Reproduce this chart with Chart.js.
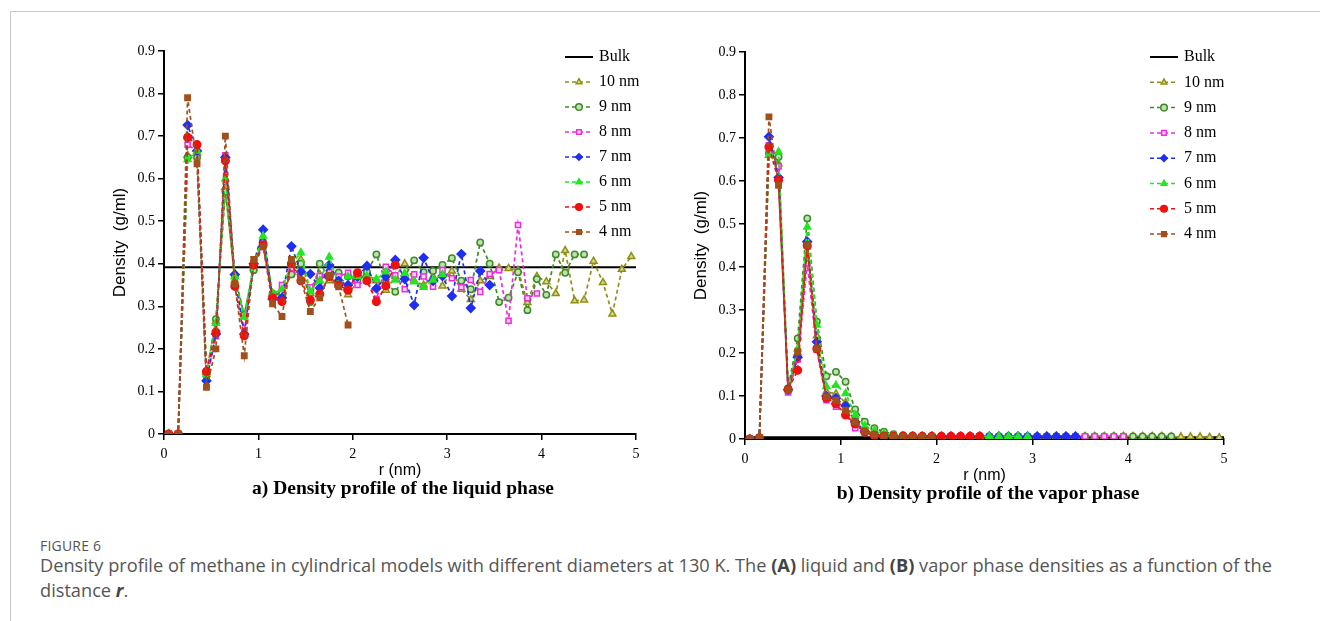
<!DOCTYPE html>
<html>
<head>
<meta charset="utf-8">
<script src="https://cdn.jsdelivr.net/npm/chart.js@4"></script>
<style>
body{margin:0;background:#fff;width:1320px;height:621px;overflow:hidden;position:relative;font-family:"Open Sans",sans-serif}
.frame{position:absolute;left:10px;top:11px;width:1330px;height:640px;border-left:1px solid #c9c9c9;border-top:1px solid #c9c9c9}
canvas{position:absolute}
#cLiq{left:0;top:0}
#cVap{left:640px;top:0}
.sub{position:absolute;font-family:"Liberation Serif",serif;font-weight:bold;font-size:19.5px;color:#000;white-space:nowrap;transform:translateX(-50%)}
.fig{position:absolute;left:40px;top:536px;font-size:14px;color:#555;letter-spacing:0.2px}
.cap{position:absolute;left:40px;top:553px;font-size:18.2px;line-height:25px;color:#555;white-space:nowrap}
.cap b{color:#444}
</style>
</head>
<body>
<div class="frame"></div>
<canvas id="cLiq" width="700" height="480"></canvas>
<canvas id="cVap" width="680" height="485"></canvas>
<div class="sub" style="left:403px;top:477px">a) Density profile of the liquid phase</div>
<div class="sub" style="left:988px;top:482px">b) Density profile of the vapor phase</div>
<div class="fig">FIGURE 6</div>
<div class="cap">Density profile of methane in cylindrical models with different diameters at 130 K. The <b>(A)</b> liquid and <b>(B)</b> vapor phase densities as a function of the<br>distance <b><i>r</i></b>.</div>
<script>
// distance from the axis (nm), each model uses the first n values
var rValues = [0.05, 0.15, 0.25, 0.35, 0.45, 0.55, 0.65, 0.75, 0.85, 0.95,
  1.05, 1.15, 1.25, 1.35, 1.45, 1.55, 1.65, 1.75, 1.85, 1.95,
  2.05, 2.15, 2.25, 2.35, 2.45, 2.55, 2.65, 2.75, 2.85, 2.95,
  3.05, 3.15, 3.25, 3.35, 3.45, 3.55, 3.65, 3.75, 3.85, 3.95,
  4.05, 4.15, 4.25, 4.35, 4.45, 4.55, 4.65, 4.75, 4.85, 4.95]
var seriesNames = ['10 nm', '9 nm', '8 nm', '7 nm', '6 nm', '5 nm', '4 nm']
var xTicks = [0, 1, 2, 3, 4, 5]
var yTicks = [0, 0.1, 0.2, 0.3, 0.4, 0.5, 0.6, 0.7, 0.8, 0.9]
var bulkR = [0, 5]
var bulkLiquid = [0.392, 0.392]
var bulkVapor = [0.002, 0.002]

// liquid phase density (g/ml)
var liquid10 = [0, 0, 0.655, 0.66, 0.145, 0.265, 0.58, 0.36, 0.28, 0.39,
  0.455, 0.33, 0.325, 0.38, 0.41, 0.33, 0.375, 0.36, 0.35, 0.327,
  0.359, 0.377, 0.36, 0.338, 0.37, 0.40, 0.36, 0.35, 0.37, 0.348,
  0.383, 0.34, 0.316, 0.36, 0.37, 0.39, 0.389, 0.385, 0.309, 0.37,
  0.358, 0.33, 0.431, 0.313, 0.315, 0.406, 0.356, 0.282, 0.387, 0.417]
var liquid9 = [0, 0, 0.65, 0.65, 0.14, 0.27, 0.57, 0.37, 0.28, 0.385,
  0.45, 0.33, 0.33, 0.375, 0.40, 0.31, 0.40, 0.37, 0.379, 0.37,
  0.36, 0.38, 0.422, 0.355, 0.334, 0.37, 0.408, 0.38, 0.383, 0.397,
  0.413, 0.36, 0.34, 0.45, 0.40, 0.31, 0.32, 0.38, 0.291, 0.364,
  0.327, 0.422, 0.379, 0.422, 0.422]
var liquid8 = [0, 0, 0.68, 0.665, 0.13, 0.23, 0.655, 0.37, 0.24, 0.40,
  0.45, 0.32, 0.35, 0.39, 0.36, 0.345, 0.371, 0.38, 0.37, 0.379,
  0.35, 0.36, 0.317, 0.393, 0.373, 0.34, 0.375, 0.37, 0.346, 0.385,
  0.366, 0.345, 0.362, 0.334, 0.376, 0.385, 0.266, 0.491, 0.319, 0.33]
var liquid7 = [0, 0, 0.726, 0.665, 0.125, 0.235, 0.65, 0.375, 0.235, 0.40,
  0.48, 0.317, 0.32, 0.441, 0.381, 0.376, 0.343, 0.397, 0.36, 0.35,
  0.37, 0.395, 0.342, 0.37, 0.409, 0.364, 0.303, 0.414, 0.36, 0.371,
  0.324, 0.423, 0.296, 0.383, 0.35]
var liquid6 = [0, 0, 0.645, 0.665, 0.14, 0.26, 0.60, 0.37, 0.275, 0.40,
  0.465, 0.33, 0.34, 0.40, 0.426, 0.335, 0.36, 0.416, 0.35, 0.37,
  0.37, 0.371, 0.364, 0.381, 0.362, 0.378, 0.358, 0.345, 0.362, 0.375]
var liquid5 = [0, 0, 0.697, 0.68, 0.147, 0.239, 0.642, 0.347, 0.231, 0.397,
  0.444, 0.32, 0.311, 0.40, 0.36, 0.315, 0.329, 0.37, 0.35, 0.338,
  0.379, 0.36, 0.311, 0.348, 0.397]
var liquid4 = [0, 0, 0.79, 0.635, 0.11, 0.20, 0.70, 0.353, 0.184, 0.41,
  0.44, 0.306, 0.276, 0.41, 0.362, 0.288, 0.32, 0.373, 0.346, 0.256]

// vapor phase density (g/ml)
var vapor10 = [0, 0.003, 0.66, 0.64, 0.117, 0.20, 0.45, 0.24, 0.11, 0.105,
  0.085, 0.045, 0.02, 0.012, 0.009, 0.007, 0.006, 0.006, 0.006, 0.006,
  0.006, 0.006, 0.006, 0.006, 0.006, 0.006, 0.006, 0.006, 0.006, 0.006,
  0.006, 0.006, 0.006, 0.006, 0.006, 0.006, 0.006, 0.006, 0.006, 0.006,
  0.006, 0.006, 0.006, 0.006, 0.005, 0.005, 0.005, 0.005, 0.004, 0.003]
var vapor9 = [0, 0.003, 0.665, 0.656, 0.118, 0.234, 0.513, 0.273, 0.146, 0.156,
  0.133, 0.069, 0.04, 0.025, 0.017, 0.011, 0.009, 0.008, 0.007, 0.006,
  0.006, 0.006, 0.006, 0.006, 0.006, 0.006, 0.006, 0.006, 0.006, 0.006,
  0.006, 0.006, 0.006, 0.006, 0.006, 0.006, 0.006, 0.006, 0.006, 0.006,
  0.006, 0.006, 0.006, 0.006, 0.006]
var vapor8 = [0, 0.003, 0.683, 0.634, 0.108, 0.185, 0.408, 0.207, 0.09, 0.075,
  0.058, 0.025, 0.015, 0.009, 0.007, 0.006, 0.006, 0.006, 0.006, 0.006,
  0.006, 0.006, 0.006, 0.006, 0.006, 0.006, 0.006, 0.006, 0.006, 0.006,
  0.006, 0.006, 0.006, 0.006, 0.006, 0.006, 0.006, 0.006, 0.006, 0.006]
var vapor7 = [0, 0.003, 0.703, 0.608, 0.115, 0.19, 0.459, 0.226, 0.10, 0.095,
  0.077, 0.04, 0.018, 0.01, 0.008, 0.006, 0.006, 0.006, 0.006, 0.006,
  0.006, 0.006, 0.006, 0.006, 0.006, 0.006, 0.006, 0.006, 0.006, 0.006,
  0.006, 0.006, 0.006, 0.006, 0.006]
var vapor6 = [0, 0.003, 0.66, 0.668, 0.118, 0.21, 0.493, 0.265, 0.122, 0.125,
  0.106, 0.056, 0.03, 0.02, 0.012, 0.008, 0.007, 0.006, 0.006, 0.006,
  0.006, 0.006, 0.006, 0.006, 0.006, 0.006, 0.006, 0.006, 0.006, 0.006]
var vapor5 = [0, 0.003, 0.679, 0.602, 0.115, 0.16, 0.45, 0.21, 0.095, 0.082,
  0.056, 0.035, 0.016, 0.009, 0.007, 0.006, 0.006, 0.006, 0.006, 0.006,
  0.006, 0.006, 0.006, 0.006, 0.006]
var vapor4 = [0, 0.003, 0.749, 0.59, 0.114, 0.203, 0.451, 0.21, 0.098, 0.09,
  0.067, 0.04, 0.018, 0.01, 0.007, 0.006, 0.006, 0.006, 0.006, 0.006]

var styles = [
  { color: '#8f8f18', fill: '#d8d88a', point: 'triangle', size: 4 },
  { color: '#3d8b25', fill: '#bfe0b2', point: 'circle', size: 3.2 },
  { color: '#f02bdc', fill: '#ffd8f6', point: 'rect', size: 3.6 },
  { color: '#1f2ff0', fill: '#1f2ff0', point: 'rectRot', size: 4.3 },
  { color: '#22e622', fill: '#22e622', point: 'triangle', size: 4 },
  { color: '#f01010', fill: '#f01010', point: 'circle', size: 3.8 },
  { color: '#a0501c', fill: '#a0501c', point: 'rect', size: 3.8 }
]

// legend drawn inside the plot, rows at fixed canvas pixels
var insideLegend = {
  id: 'insideLegend',
  afterDraw: function (chart, args, opts) {
    var ctx = chart.ctx
    ctx.save()
    chart.data.datasets.forEach(function (ds, i) {
      var y = opts.y + i * opts.gap
      var x = opts.x
      ctx.beginPath()
      ctx.setLineDash(ds.borderDash || [])
      ctx.lineWidth = ds.label == 'Bulk' ? 2 : 1.5
      ctx.strokeStyle = ds.borderColor
      ctx.moveTo(x, y)
      ctx.lineTo(x + 28, y)
      ctx.stroke()
      ctx.setLineDash([])
      if (ds.label != 'Bulk') {
        ctx.fillStyle = ds.pointBackgroundColor
        ctx.strokeStyle = ds.pointBorderColor
        ctx.lineWidth = 1.5
        Chart.helpers.drawPoint(ctx, { pointStyle: ds.pointStyle, radius: 3.3, rotation: 0, borderWidth: 1.5 }, x + 14, y)
      }
      ctx.fillStyle = '#000'
      ctx.font = '16px "Liberation Serif"'
      ctx.textBaseline = 'middle'
      ctx.textAlign = 'left'
      ctx.fillText(ds.label, x + 34, y)
    })
    ctx.restore()
  }
}

function buildDatasets(seriesData, bulkY, bulkWidth) {
  var sets = [{
    label: 'Bulk',
    data: bulkR.map(function (x, i) { return { x: x, y: bulkY[i] } }),
    showLine: true, borderColor: '#000', borderWidth: bulkWidth, pointRadius: 0, order: 9
  }]
  seriesData.forEach(function (ys, k) {
    var st = styles[k]
    sets.push({
      label: seriesNames[k],
      data: ys.map(function (y, i) { return { x: rValues[i], y: y } }),
      showLine: true,
      borderColor: st.color,
      borderWidth: 1.7,
      borderDash: [4, 3],
      pointStyle: st.point,
      pointRadius: st.size,
      pointBackgroundColor: st.fill,
      pointBorderColor: st.color,
      pointBorderWidth: 1.5,
      order: 8 - k
    })
  })
  return sets
}

function makeChart(id, seriesData, bulkY, bulkWidth, g) {
  var ctx = document.getElementById(id).getContext('2d')
  var axisFont = { family: 'Liberation Serif', size: 14 }
  return new Chart(ctx, {
    type: 'scatter',
    data: { datasets: buildDatasets(seriesData, bulkY, bulkWidth) },
    plugins: [insideLegend],
    options: {
      animation: false,
      responsive: false,
      devicePixelRatio: 1,
      layout: { padding: { left: g.padL, right: g.padR, top: g.padT, bottom: 0 } },
      plugins: {
        legend: { display: false },
        tooltip: { enabled: false },
        insideLegend: { x: g.legX, y: g.legY, gap: g.legGap }
      },
      scales: {
        x: {
          type: 'linear', min: 0, max: 5,
          afterBuildTicks: function (s) { s.ticks = xTicks.map(function (v) { return { value: v } }) },
          afterFit: function (s) { s.height = g.xH },
          ticks: { font: axisFont, color: '#000', padding: 6, maxRotation: 0 },
          grid: { drawOnChartArea: false, tickLength: 6, color: '#000', lineWidth: 1.5 },
          border: { color: '#000', width: 2 },
          title: { display: true, text: 'r (nm)', color: '#000', font: { family: 'Liberation Sans', size: 16 }, padding: 0 }
        },
        y: {
          type: 'linear', min: 0, max: 0.9,
          afterBuildTicks: function (s) { s.ticks = yTicks.map(function (v) { return { value: v } }) },
          afterFit: function (s) { s.width = g.yW },
          ticks: {
            font: axisFont, color: '#000', padding: 3,
            callback: function (v) { return v == 0 ? '0' : v.toFixed(1) }
          },
          grid: { drawOnChartArea: false, tickLength: 6, color: '#000', lineWidth: 1.5 },
          border: { color: '#000', width: 2 },
          title: { display: true, text: 'Density  (g/ml)', color: '#000', font: { family: 'Liberation Sans', size: 17 }, padding: 2 }
        }
      }
    }
  })
}

$ready()
function $ready() {
  makeChart('cLiq', [liquid10, liquid9, liquid8, liquid7, liquid6, liquid5, liquid4], bulkLiquid, 2,
    { padL: 108, padR: 64, padT: 51, xH: 46, yW: 56, legX: 565, legY: 57, legGap: 25 })
  makeChart('cVap', [vapor10, vapor9, vapor8, vapor7, vapor6, vapor5, vapor4], bulkVapor, 4,
    { padL: 49, padR: 96, padT: 52, xH: 46, yW: 56, legX: 510, legY: 57, legGap: 25.3 })
}
</script>
</body>
</html>
